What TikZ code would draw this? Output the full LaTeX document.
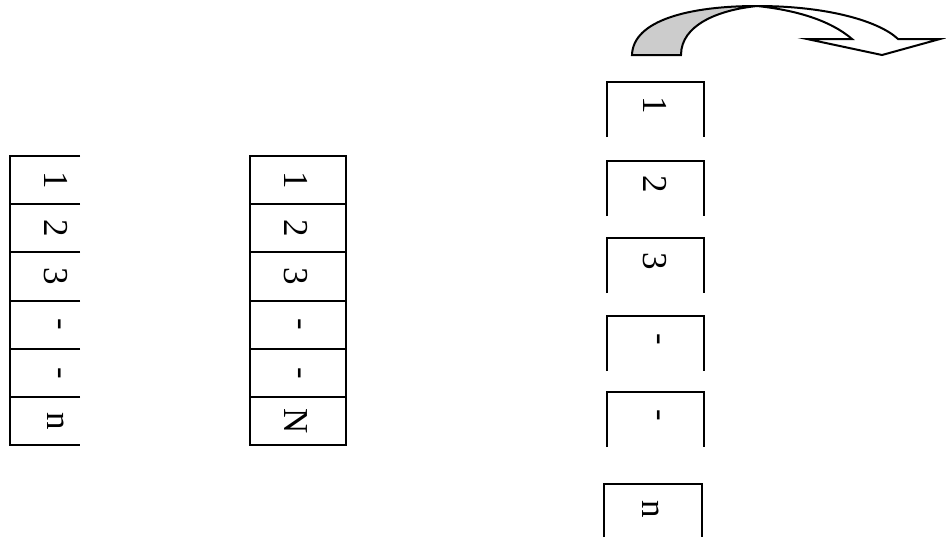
\documentclass[tikz,border=0pt]{standalone}
\usepackage{fontspec}
\setmainfont{Liberation Serif}
\begin{document}
\begin{tikzpicture}[x=0.5pt,y=-0.5pt,line width=1pt,
  every node/.style={rotate=-90,font=\fontsize{17.5}{21}\selectfont,inner sep=0pt}]
\useasboundingbox (0,0) rectangle (946,537);
\def\rowh{48.2}
% left column, open at the right
\foreach \lbl [count=\i] in {1,2,3,-,-,n} {
  \node (l\i) at (56,{156+\rowh*(\i-0.5)}) {\lbl};
  \draw (80,{156+\rowh*(\i-1)}) -- (10,{156+\rowh*(\i-1)}) -- (10,{156+\rowh*\i}) -- (80,{156+\rowh*\i});
}
% middle column
\foreach \lbl [count=\i] in {1,2,3,-,-,N} {
  \node (m\i) at (296,{156+\rowh*(\i-0.5)}) {\lbl};
  \draw (250,{156+\rowh*(\i-1)}) rectangle (346,{156+\rowh*\i});
}
% right column, boxes open at the bottom
\foreach \lbl/\ytop [count=\i] in {1/82,2/161,3/238,-/316,-/392} {
  \node (r\i) at (655,\ytop+23) {\lbl};
  \draw (607,\ytop+55) -- (607,\ytop) -- (704,\ytop) -- (704,\ytop+55);
}
\node (r6) at (651,509) {n};
\draw (604,537) -- (604,484) -- (702,484) -- (702,537);
% curved arrow
\draw[fill=gray!40] (632,55) .. controls (633,20) and (690,6) .. (757,6)
  .. controls (718,10) and (681,25) .. (681,55) -- cycle;
\draw[fill=white] (757,6) .. controls (830,6) and (880,22) .. (898,39)
  -- (940,39) -- (882,55) -- (807,39) -- (852,39)
  .. controls (830,20) and (795,10) .. (757,6) -- cycle;
\end{tikzpicture}
\end{document}
